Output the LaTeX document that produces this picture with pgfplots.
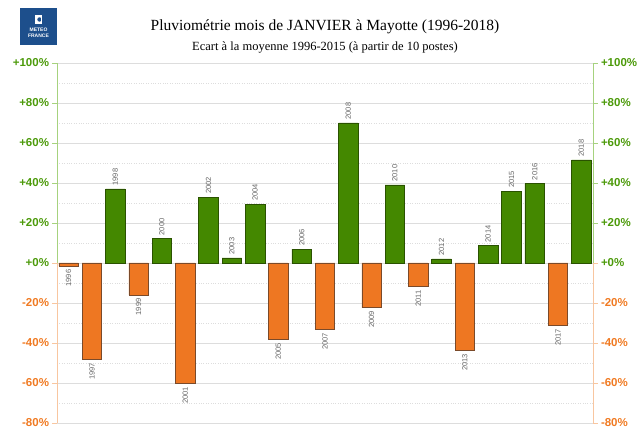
\documentclass[border=0pt]{standalone}
\usepackage{pgfplots}
\pgfplotsset{compat=1.18}
\usepackage{pgfplotstable}
\usepackage{fontspec}
\setmainfont{Liberation Serif}
\newfontfamily\sansf{Liberation Sans}
\definecolor{gbar}{HTML}{448800}
\definecolor{gbord}{HTML}{2A5200}
\definecolor{obar}{HTML}{EE7722}
\definecolor{obord}{HTML}{7A4A2A}
\definecolor{glab}{HTML}{4C9A0A}
\definecolor{olab}{HTML}{F07A22}
\definecolor{gax}{HTML}{A6D27E}
\definecolor{oax}{HTML}{F8C6A0}
\definecolor{gridc}{HTML}{DDDDDD}
\definecolor{ylab}{HTML}{666666}
\definecolor{logob}{HTML}{1D4F8C}

\pgfplotstableread{
x y lab
2 37 1998
4 12.1 2000
6 32.9 2002
7 2.5 2003
8 29.4 2004
10 6.9 2006
12 70 2008
14 39 2010
16 2 2012
18 8.6 2014
19 35.9 2015
20 39.7 2016
22 51.5 2018
}\postable

\pgfplotstableread{
x y lab
0 -1.6 1996
1 -48.4 1997
3 -16 1999
5 -60.4 2001
9 -38.2 2005
11 -33.2 2007
13 -22.3 2009
15 -11.9 2011
17 -43.8 2013
21 -31.3 2017
}\negtable

\begin{document}
\begin{tikzpicture}
\pgfplotsset{
  common/.style={
    at={(57pt,7pt)}, anchor=south west, scale only axis,
    width=536pt, height=360pt,
    xmin=-0.5, xmax=22.5, ymin=-80, ymax=100,
    axis line style={draw=none},
    xtick=\empty,
    ytick={-80,-60,-40,-20,0,20,40,60,80,100},
    yticklabels={{\color{olab}-80\%},{\color{olab}-60\%},{\color{olab}-40\%},{\color{olab}-20\%},{\color{glab}+0\%},{\color{glab}+20\%},{\color{glab}+40\%},{\color{glab}+60\%},{\color{glab}+80\%},{\color{glab}+100\%}},
    tick align=outside, major tick length=5pt, minor tick length=0pt,
    ytick style={draw=none},
    yticklabel style={font=\sansf\bfseries\fontsize{11.5}{13}\selectfont, inner sep=1pt, outer sep=2pt},
    clip=false,
  }
}
\begin{axis}[common,
  minor ytick={-70,-50,-30,-10,10,30,50,70,90},
  ymajorgrids, yminorgrids,
  major grid style={draw=gridc, line width=0.7pt},
  minor grid style={draw=gridc, dotted, line width=0.6pt},
  ybar, bar width=19.5pt, bar shift=0pt,
]
\addplot[fill=gbar, draw=gbord, line width=0.6pt,
  point meta=explicit symbolic,
  nodes near coords={\pgfplotspointmeta},
  nodes near coords align={anchor=west},
  every node near coord/.append style={rotate=90, anchor=west, font=\sansf\fontsize{7.5}{8}\selectfont, text=ylab, inner sep=1pt, outer sep=2.5pt}]
  table[x=x, y=y, meta=lab] {\postable};
\addplot[fill=obar, draw=obord, line width=0.6pt,
  point meta=explicit symbolic,
  nodes near coords={\pgfplotspointmeta},
  nodes near coords align={anchor=east},
  every node near coord/.append style={rotate=90, anchor=east, font=\sansf\fontsize{7.5}{8}\selectfont, text=ylab, inner sep=1pt, outer sep=2.5pt}]
  table[x=x, y=y, meta=lab] {\negtable};
\draw[gax, line width=0.8pt] (axis cs:-0.5,0) -- (axis cs:-0.5,100);
\draw[oax, line width=0.8pt] (axis cs:-0.5,0) -- (axis cs:-0.5,-80);
\draw[gax, line width=0.8pt] (axis cs:22.5,0) -- (axis cs:22.5,100);
\draw[oax, line width=0.8pt] (axis cs:22.5,0) -- (axis cs:22.5,-80);
\pgfplotsinvokeforeach{20,40,60,80,100}{
  \draw[gax, line width=0.8pt] (axis cs:-0.5,#1) -- ++(-5pt,0pt);
  \draw[gax, line width=0.8pt] (axis cs:22.5,#1) -- ++(5pt,0pt);
}
\pgfplotsinvokeforeach{0,-20,-40,-60,-80}{
  \draw[oax, line width=0.8pt] (axis cs:-0.5,#1) -- ++(-5pt,0pt);
  \draw[oax, line width=0.8pt] (axis cs:22.5,#1) -- ++(5pt,0pt);
}
\end{axis}
\begin{axis}[common, yticklabel pos=right]
\end{axis}
\node[anchor=base, font=\fontsize{15.5}{18}\selectfont] at (325pt,399pt) {Pluviométrie mois de JANVIER à Mayotte (1996-2018)};
\node[anchor=base, font=\fontsize{12.5}{15}\selectfont] at (325pt,379pt) {Ecart à la moyenne 1996-2015 (à partir de 10 postes)};
\fill[logob] (20pt,385pt) rectangle (57pt,422pt);
\fill[white] (35pt,406pt) rectangle (42pt,415pt);
\fill[logob] (39.5pt,410.5pt) circle (2.2pt);
\fill[white] (40.5pt,408pt) rectangle (42pt,413pt);
\node[text=white, font=\sansf\bfseries\fontsize{5}{5.5}\selectfont, align=center, inner sep=0pt] at (38.5pt,397pt) {METEO\\FRANCE};
\pgfresetboundingbox
\path (0pt,0pt) rectangle (637pt,430pt);
\end{tikzpicture}
\end{document}
